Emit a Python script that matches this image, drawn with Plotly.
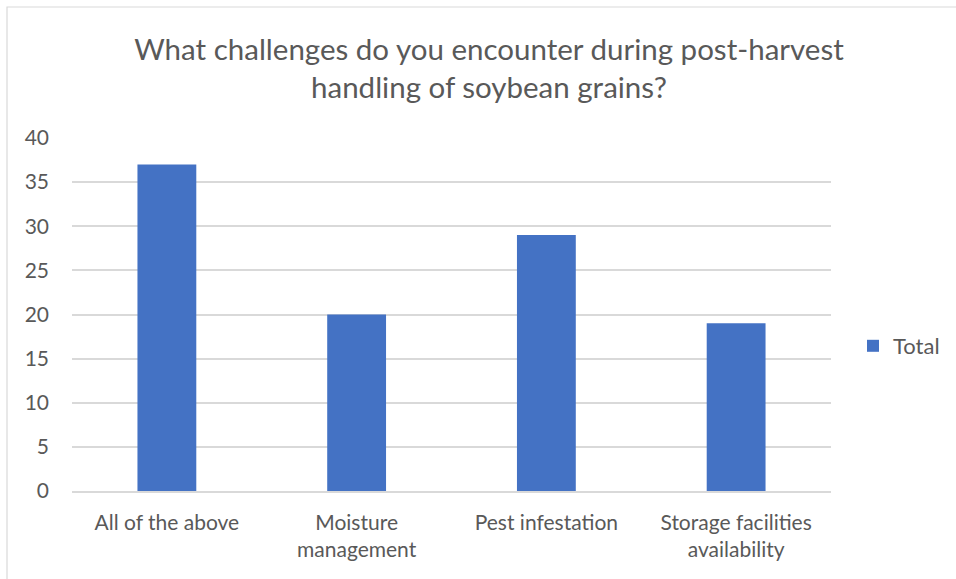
import plotly.graph_objects as go

categories = ["All of the above", "Moisture<br>management", "Pest infestation",
              "Storage facilities<br>availability"]
totals = [37, 20, 29, 19]
y_ticks = [0, 5, 10, 15, 20, 25, 30, 35, 40]

W, H = 956, 579
L, R, T, B = 72, 125, 138, 88
pw, ph = W - L - R, H - T - B

text_color = "#595959"
font_family = "Lato, 'Open Sans', sans-serif"

fig = go.Figure()
fig.add_trace(go.Bar(
    x=categories, y=totals, name="Total",
    marker=dict(color="#4472C4", line=dict(width=0)),
    width=0.31, showlegend=True,
))

# chart border (open at the right/bottom edges of the canvas)
def px_x(p):
    return (p - L) / pw

def px_y(p):
    return (H - B - p) / ph

fig.add_shape(type="rect", xref="paper", yref="paper",
              x0=px_x(7), x1=px_x(W + 20), y0=px_y(7), y1=px_y(H + 20),
              line=dict(color="#D9D9D9", width=1.2), layer="below")

fig.update_layout(
    width=W, height=H,
    margin=dict(l=L, r=R, t=T, b=B, autoexpand=False),
    paper_bgcolor="white", plot_bgcolor="white",
    font=dict(family=font_family, color=text_color, size=21),
    title=dict(
        text="What challenges do you encounter during post-harvest<br>handling of soybean grains?",
        x=489 / W, xanchor="center", y=1 - 60 / H, yanchor="bottom",
        font=dict(size=29.5, color=text_color, family=font_family),
    ),
    xaxis=dict(showline=True, linecolor="#D9D9D9", linewidth=1.5,
               ticks="", tickfont=dict(size=21, color=text_color),
               ticklabelstandoff=12, showgrid=False),
    yaxis=dict(range=[0, 40], tickvals=y_ticks, showgrid=True,
               gridcolor="#D9D9D9", gridwidth=1.5, zeroline=False,
               ticks="", tickfont=dict(size=21, color=text_color),
               ticklabelstandoff=22),
    legend=dict(x=px_x(853), y=px_y(346), xanchor="left", yanchor="middle",
                font=dict(size=22, color=text_color), itemwidth=30,
                bgcolor="rgba(0,0,0,0)"),
)

fig.write_html("out.html")
